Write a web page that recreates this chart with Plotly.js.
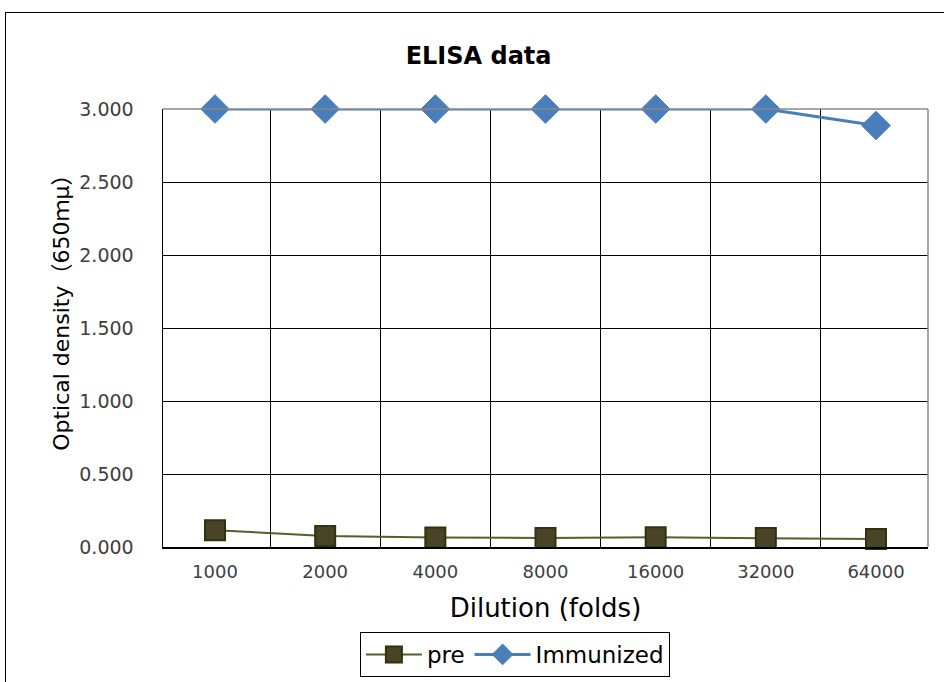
<!DOCTYPE html>
<html>
<head>
<meta charset="utf-8">
<script src="https://cdn.plot.ly/plotly-3.0.1.min.js"></script>
<style>
html,body{margin:0;padding:0;background:#fff;overflow:hidden;}
#frame{position:absolute;left:5px;top:12px;width:1000px;height:800px;border:1.5px solid #000;box-sizing:border-box;pointer-events:none;z-index:5;}
#chart{position:absolute;left:0;top:0;width:944px;height:682px;}
</style>
</head>
<body>
<div id="chart"></div>
<div id="frame"></div>
<script>
var categories = ["1000","2000","4000","8000","16000","32000","64000"];
var preValues = [0.115, 0.076, 0.065, 0.062, 0.066, 0.062, 0.055];
var immunizedValues = [3.000, 3.000, 3.000, 3.000, 3.000, 3.000, 2.887];
var yTicks = [0, 0.5, 1, 1.5, 2, 2.5, 3];

var fontFam = "'DejaVu Sans', 'Noto Sans CJK JP', sans-serif";

var traces = [
  {
    x: categories, y: preValues, name: "pre", type: "scatter", mode: "lines+markers",
    line: {color: "#4F6228", width: 2},
    marker: {symbol: "square", size: 20, color: "#4A4427", line: {color: "#2F3310", width: 2}},
    cliponaxis: false
  },
  {
    x: categories, y: immunizedValues, name: "Immunized", type: "scatter", mode: "lines+markers",
    line: {color: "#4A7EBB", width: 3},
    marker: {symbol: "diamond", size: 22, color: "#4A7EBB", line: {color: "#4A7EBB", width: 1}},
    cliponaxis: false
  }
];

var layout = {
  width: 944, height: 682,
  margin: {l: 163, r: 16, t: 109, b: 135, autoexpand: false},
  paper_bgcolor: "#fff", plot_bgcolor: "#fff",
  showlegend: true,
  title: {text: "<b>ELISA data</b>", x: 0.507, xanchor: "center", y: 0.919, yanchor: "middle",
          font: {family: fontFam, size: 24, color: "#000"}},
  xaxis: {
    type: "category", tickson: "boundaries",
    showgrid: true, gridcolor: "#000", gridwidth: 1,
    showline: true, linecolor: "#000", linewidth: 1.5, mirror: false,
    ticks: "", ticklabelstandoff: 8,
    tickfont: {family: fontFam, size: 18, color: "#404040"},
    title: {text: "Dilution (folds)", standoff: 17, font: {family: fontFam, size: 26, color: "#000"}},
    zeroline: false
  },
  yaxis: {
    range: [0, 3], tickvals: yTicks, tickformat: ".3f",
    showgrid: true, gridcolor: "#000", gridwidth: 1,
    showline: true, linecolor: "#000", linewidth: 1.5,
    ticks: "", ticklabelstandoff: 24,
    tickfont: {family: fontFam, size: 19, color: "#404040"},
    zeroline: false
  },
  annotations: [
    {text: "Optical density（650ｍμ）", xref: "paper", yref: "paper",
     x: -0.132, y: 0.546, xanchor: "center", yanchor: "middle", textangle: -90,
     showarrow: false, font: {family: fontFam, size: 22, color: "#000"}}
  ],
  legend: {
    orientation: "h", x: 0.46, xanchor: "center", y: -0.194, yanchor: "top",
    bordercolor: "#000", borderwidth: 1, bgcolor: "#fff",
    font: {family: fontFam, size: 23, color: "#000"},
    itemwidth: 56, traceorder: "normal"
  },
  shapes: [
    {type: "line", xref: "paper", yref: "paper", x0: 0, x1: 1, y0: 1, y1: 1, line: {color: "#888", width: 1.5}},
    {type: "line", xref: "paper", yref: "paper", x0: 1, x1: 1, y0: 0, y1: 1, line: {color: "#888", width: 1.5}}
  ]
};

Plotly.newPlot("chart", traces, layout, {displayModeBar: false, staticPlot: true});
</script>
</body>
</html>
